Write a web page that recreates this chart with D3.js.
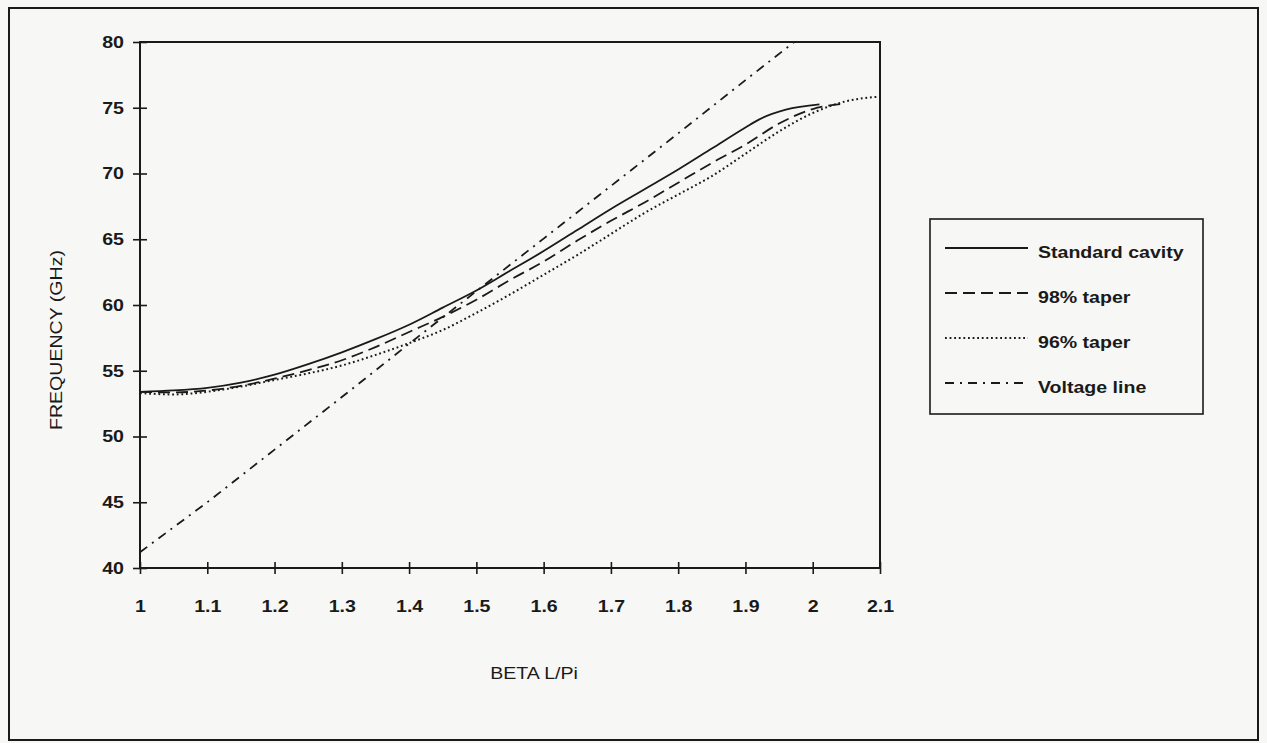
<!DOCTYPE html>
<html>
<head>
<meta charset="utf-8">
<script src="https://cdn.jsdelivr.net/npm/d3@7/dist/d3.min.js"></script>
<style>
  html, body { margin: 0; padding: 0; background: #f7f7f5; }
  svg { display: block; font-family: Arial, "Liberation Sans", Helvetica, sans-serif; }
</style>
</head>
<body>
<svg id="chart" width="1267" height="743"></svg>
<script>
// Phase constant (beta L / pi) sample points and frequencies in GHz
const betaStandard = [1.0, 1.05, 1.1, 1.15, 1.2, 1.25, 1.3, 1.35, 1.4, 1.45, 1.5, 1.55, 1.6, 1.65, 1.7, 1.75, 1.8, 1.85, 1.9, 1.92, 1.96, 2.01];
const freqStandard = [53.4, 53.5, 53.7, 54.1, 54.7, 55.5, 56.4, 57.4, 58.5, 59.8, 61.1, 62.6, 64.1, 65.7, 67.3, 68.8, 70.3, 71.9, 73.5, 74.1, 74.85, 75.25];

const beta98 = [1.0, 1.05, 1.1, 1.15, 1.2, 1.25, 1.3, 1.35, 1.4, 1.45, 1.5, 1.55, 1.6, 1.65, 1.7, 1.75, 1.8, 1.85, 1.9, 1.95, 2.0, 2.044];
const freq98 = [53.4, 53.35, 53.5, 53.85, 54.4, 55.05, 55.8, 56.8, 57.95, 59.1, 60.4, 61.9, 63.3, 64.9, 66.4, 67.8, 69.3, 70.8, 72.2, 73.8, 74.9, 75.3];

const beta96 = [1.0, 1.05, 1.1, 1.15, 1.2, 1.25, 1.3, 1.35, 1.4, 1.45, 1.5, 1.55, 1.6, 1.65, 1.7, 1.75, 1.8, 1.85, 1.9, 1.95, 2.0, 2.05, 2.1];
const freq96 = [53.3, 53.2, 53.4, 53.8, 54.3, 54.8, 55.4, 56.2, 57.1, 58.1, 59.4, 60.8, 62.3, 63.8, 65.4, 67.0, 68.4, 69.8, 71.5, 73.2, 74.6, 75.5, 75.85];

const betaVoltage = [1.0, 1.1, 1.2, 1.3, 1.4, 1.5, 1.6, 1.7, 1.8, 1.9, 2.0];
const freqVoltage = [41.2, 45.0, 49.0, 53.0, 57.05, 61.05, 65.05, 69.05, 73.05, 77.1, 81.1];

const xTicks = [1, 1.1, 1.2, 1.3, 1.4, 1.5, 1.6, 1.7, 1.8, 1.9, 2, 2.1];
const yTicks = [40, 45, 50, 55, 60, 65, 70, 75, 80];

const seriesNames = ["Standard cavity", "98% taper", "96% taper", "Voltage line"];
const xTitle = "BETA L/Pi";
const yTitle = "FREQUENCY (GHz)";

const ink = "#1a1a1a";
const svg = d3.select("#chart");

// outer frame
svg.append("rect")
  .attr("x", 9).attr("y", 8).attr("width", 1249).attr("height", 732)
  .attr("fill", "none").attr("stroke", ink).attr("stroke-width", 2);

const plot = { left: 140, right: 880, top: 42, bottom: 568 };
const x = d3.scaleLinear().domain([1, 2.1]).range([plot.left, plot.right]);
const y = d3.scaleLinear().domain([40, 80]).range([plot.bottom, plot.top]);

svg.append("defs").append("clipPath").attr("id", "plotClip")
  .append("rect")
  .attr("x", plot.left).attr("y", plot.top)
  .attr("width", plot.right - plot.left).attr("height", plot.bottom - plot.top);

// plot frame
svg.append("rect")
  .attr("x", plot.left).attr("y", plot.top)
  .attr("width", plot.right - plot.left).attr("height", plot.bottom - plot.top)
  .attr("fill", "none").attr("stroke", ink).attr("stroke-width", 2);

// axes with ticks crossing the axis line
const xAxis = d3.axisBottom(x).tickValues(xTicks).tickFormat(d3.format("")).tickSize(6).tickPadding(26);
const gx = svg.append("g").attr("transform", `translate(0,${plot.bottom})`).call(xAxis);
gx.select(".domain").remove();
gx.selectAll(".tick line").attr("y1", -6).attr("y2", 6).attr("stroke", ink).attr("stroke-width", 1.6);
gx.selectAll(".tick text")
  .attr("fill", ink).attr("font-size", 17).attr("font-weight", "bold")
  .attr("font-family", "Arial, 'Liberation Sans', sans-serif");

const yAxis = d3.axisLeft(y).tickValues(yTicks).tickFormat(d3.format("")).tickSize(7).tickPadding(9);
const gy = svg.append("g").attr("transform", `translate(${plot.left},0)`).call(yAxis);
gy.select(".domain").remove();
gy.selectAll(".tick line").attr("x1", -7).attr("x2", 7).attr("stroke", ink).attr("stroke-width", 1.6);
gy.selectAll(".tick text")
  .attr("fill", ink).attr("font-size", 17).attr("font-weight", "bold")
  .attr("font-family", "Arial, 'Liberation Sans', sans-serif");

// axis titles
svg.append("text")
  .attr("x", 534).attr("y", 679)
  .attr("text-anchor", "middle").attr("font-size", 17).attr("fill", ink)
  .text(xTitle);

svg.append("text")
  .attr("transform", "translate(62,340) rotate(-90)")
  .attr("text-anchor", "middle").attr("font-size", 17).attr("fill", ink)
  .text(yTitle);

// curves
const styles = [
  { dash: null, width: 1.8 },
  { dash: "12,6", width: 1.8 },
  { dash: "1.8,2.8", width: 2 },
  { dash: "9,6,2,6", width: 1.8 }
];

const series = [
  { xs: betaStandard, ys: freqStandard },
  { xs: beta98, ys: freq98 },
  { xs: beta96, ys: freq96 },
  { xs: betaVoltage, ys: freqVoltage }
];

const line = d3.line().x(d => x(d[0])).y(d => y(d[1])).curve(d3.curveMonotoneX);
const straight = d3.line().x(d => x(d[0])).y(d => y(d[1]));

const gLines = svg.append("g").attr("clip-path", "url(#plotClip)");
series.forEach((s, i) => {
  const pts = s.xs.map((b, k) => [b, s.ys[k]]);
  gLines.append("path")
    .attr("d", i === 3 ? straight(pts) : line(pts))
    .attr("fill", "none")
    .attr("stroke", ink)
    .attr("stroke-width", styles[i].width)
    .attr("stroke-dasharray", styles[i].dash);
});

// legend
const lg = svg.append("g");
lg.append("rect")
  .attr("x", 930).attr("y", 219).attr("width", 273).attr("height", 195)
  .attr("fill", "none").attr("stroke", ink).attr("stroke-width", 1.6);

const rowY = [252, 297, 342, 387];
seriesNames.forEach((name, i) => {
  lg.append("line")
    .attr("x1", 945).attr("x2", 1028)
    .attr("y1", rowY[i] - 4).attr("y2", rowY[i] - 4)
    .attr("stroke", ink).attr("stroke-width", styles[i].width)
    .attr("stroke-dasharray", styles[i].dash);
  lg.append("text")
    .attr("x", 1038).attr("y", rowY[i] + 6)
    .attr("font-size", 17).attr("font-weight", "bold").attr("fill", ink)
    .text(name);
});

// widen glyphs slightly to match the printed typeface proportions
svg.selectAll("text").each(function () {
  const len = this.getComputedTextLength();
  if (len > 0) {
    d3.select(this).attr("textLength", (len * 1.15).toFixed(1)).attr("lengthAdjust", "spacingAndGlyphs");
  }
});
</script>
</body>
</html>
